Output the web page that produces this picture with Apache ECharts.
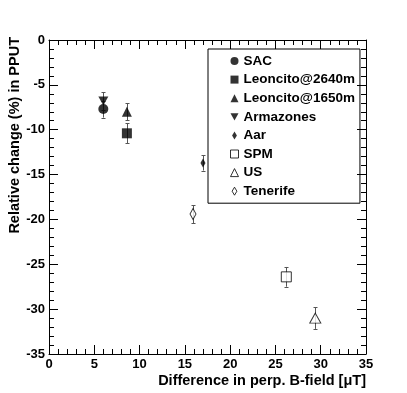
<!DOCTYPE html>
<html>
<head>
<meta charset="utf-8">
<script src="https://cdn.jsdelivr.net/npm/echarts@6/dist/echarts.min.js"></script>
<style>
    html, body { margin: 0; padding: 0; background: #fff; }
    #chart { width: 407px; height: 393px; }
</style>
</head>
<body>
<div id="chart"></div>
<script>
(function () {
    var chart = echarts.init(document.getElementById('chart'));

    // stations, in legend order
    var names = ['SAC', 'Leoncito@2640m', 'Leoncito@1650m', 'Armazones', 'Aar', 'SPM', 'US', 'Tenerife'];
    // difference in perp. B-field [uT]
    var xVals = [6.0, 8.6, 8.6, 6.0, 17.0, 26.2, 29.4, 15.9];
    // relative change (%) in PPUT
    var yVals = [-7.7, -10.4, -8.0, -6.8, -13.7, -26.4, -31.0, -19.4];
    var yErrs = [0.95, 1.1, 0.95, 1.0, 0.85, 1.1, 1.2, 1.0];

    var xTicks = [0, 5, 10, 15, 20, 25, 30, 35];
    var yTicks = [-35, -30, -25, -20, -15, -10, -5, 0];

    // marker look per station
    var downTri = 'path://M0,0 L10,0 L5,9 Z';
    var thinDiamond = 'path://M3,0 L6,5 L3,10 L0,5 Z';
    var symbols = ['circle', 'rect', 'triangle', downTri, thinDiamond, 'rect', 'triangle', thinDiamond];
    var sizes = [10, 10, 10, [10, 9], [5, 9], 10, [11, 10], [6, 11]];
    var open = [false, false, false, false, false, true, true, true];

    var font = 'Liberation Sans, Arial, Helvetica, sans-serif';

    function styleFor(i) {
        return open[i]
            ? { color: '#fff', borderColor: '#000', borderWidth: 1 }
            : { color: '#000', borderWidth: 0 };
    }

    // 误差棒
    function renderError(params, api) {
        var x = api.value(0), lo = api.value(1), hi = api.value(2);
        var p1 = api.coord([x, hi]), p2 = api.coord([x, lo]);
        var px = Math.round(p1[0]) + 0.5;
        var cap = 2;
        var st = { stroke: '#555', lineWidth: 1 };
        return {
            type: 'group',
            children: [
                { type: 'line', shape: { x1: px, y1: p1[1], x2: px, y2: p2[1] }, style: st },
                { type: 'line', shape: { x1: px - cap, y1: Math.round(p1[1]) + 0.5, x2: px + cap, y2: Math.round(p1[1]) + 0.5 }, style: st },
                { type: 'line', shape: { x1: px - cap, y1: Math.round(p2[1]) + 0.5, x2: px + cap, y2: Math.round(p2[1]) + 0.5 }, style: st }
            ]
        };
    }

    function axisCommon(showLabel) {
        return {
            axisLine: { show: true, onZero: false, lineStyle: { color: '#000', width: 1 } },
            axisTick: { show: true, inside: true, length: 9, lineStyle: { color: '#000' } },
            minorTick: { show: true, splitNumber: 5, length: 5, lineStyle: { color: '#000' } },
            splitLine: { show: false },
            axisLabel: {
                show: showLabel,
                margin: 4,
                color: '#000',
                fontFamily: font,
                fontWeight: 'bold',
                fontSize: 13
            }
        };
    }

    var xBottom = echarts.util.merge({
        type: 'value', position: 'bottom', min: 0, max: 35, interval: 5,
        name: 'Difference in perp. B-field [\u03bcT]',
        nameLocation: 'end',
        nameGap: 0,
        nameTextStyle: {
            align: 'right', verticalAlign: 'top', padding: [19, 0, 0, 0],
            color: '#000', fontFamily: font, fontWeight: 'bold', fontSize: 14.5
        }
    }, axisCommon(true));
    xBottom.axisLabel.formatter = function (v) { return xTicks.indexOf(v) >= 0 ? String(v) : ''; };

    var yLeft = echarts.util.merge({
        type: 'value', position: 'left', min: -35, max: 0, interval: 5,
        name: 'Relative change (%) in PPUT',
        nameLocation: 'end',
        nameGap: 3,
        nameRotate: 90,
        nameTextStyle: {
            align: 'right', verticalAlign: 'bottom', padding: [0, 0, 27, 0],
            color: '#000', fontFamily: font, fontWeight: 'bold', fontSize: 14.5
        }
    }, axisCommon(true));
    yLeft.axisLabel.formatter = function (v) { return yTicks.indexOf(v) >= 0 ? String(v) : ''; };

    var xTop = echarts.util.merge({ type: 'value', position: 'top', min: 0, max: 35, interval: 5 }, axisCommon(false));
    var yRight = echarts.util.merge({ type: 'value', position: 'right', min: -35, max: 0, interval: 5 }, axisCommon(false));

    var series = names.map(function (name, i) {
        return {
            name: name,
            type: 'scatter',
            z: 3,
            symbol: symbols[i],
            symbolSize: sizes[i],
            symbolKeepAspect: false,
            itemStyle: styleFor(i),
            data: [[xVals[i], yVals[i]]]
        };
    });

    series.unshift({
        type: 'custom',
        z: 2,
        renderItem: renderError,
        encode: { x: 0, y: [1, 2] },
        data: xVals.map(function (x, i) { return [x, yVals[i] - yErrs[i], yVals[i] + yErrs[i]]; })
    });

    var option = {
        backgroundColor: '#fff',
        animation: false,
        grid: { left: 49, right: 41, top: 40, bottom: 39 },
        legend: {
            orient: 'vertical',
            left: 208,
            top: 49,
            padding: [5, 5, 5, 22],
            itemWidth: 8,
            itemHeight: 8,
            itemGap: 4.6,
            itemTextGap: 9,
            borderColor: '#000',
            borderWidth: 1,
            borderRadius: 0,
            textStyle: { color: '#000', fontFamily: font, fontWeight: 'bold', fontSize: 13.5, lineHeight: 14 },
            data: names.map(function (name, i) {
                return { name: name, icon: symbols[i], itemStyle: styleFor(i) };
            })
        },
        xAxis: [xBottom, xTop],
        yAxis: [yLeft, yRight],
        series: series.map(function (s) {
            s.xAxisIndex = 0;
            s.yAxisIndex = 0;
            return s;
        })
    };

    chart.setOption(option);
})();
</script>
</body>
</html>
